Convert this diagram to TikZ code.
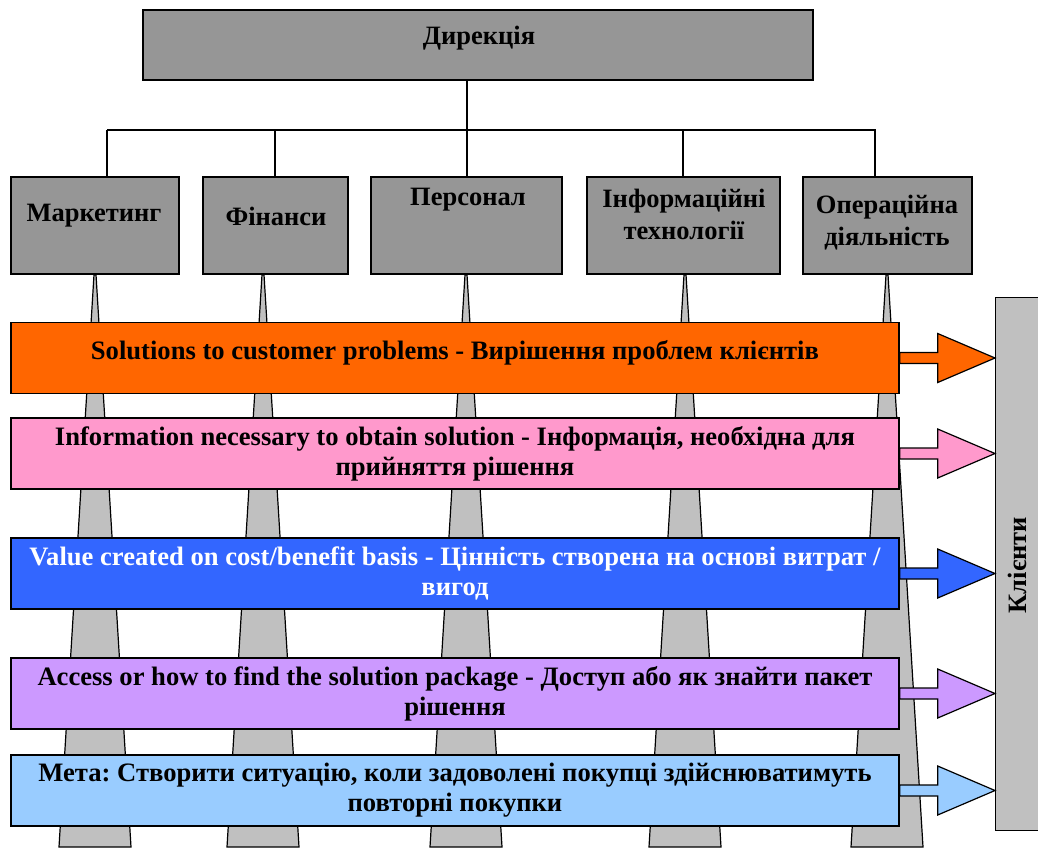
\documentclass[tikz,border=0pt]{standalone}
\usepackage{fontspec}
\setmainfont{Liberation Serif}
\usetikzlibrary{calc}
\frenchspacing

\definecolor{deptgray}{HTML}{969696}
\definecolor{raygray}{HTML}{C0C0C0}
\definecolor{solorange}{HTML}{FF6600}
\definecolor{infopink}{HTML}{FF99CC}
\definecolor{valueblue}{HTML}{3366FF}
\definecolor{accesslilac}{HTML}{CC99FF}
\definecolor{goalblue}{HTML}{99CCFF}

\begin{document}
\begin{tikzpicture}[x=1pt, y=1pt,
  box/.style={draw, line width=1.4pt, inner sep=0pt},
  dept/.style={box, fill=deptgray, minimum height=97pt},
  deptlab/.style={font=\bfseries\fontsize{26.5}{32}\selectfont, align=center, inner sep=0pt},
  band/.style={box, minimum width=888pt, minimum height=71pt,
    font=\bfseries\fontsize{26.6}{30}\selectfont, align=center},
  ray/.style={draw, line width=1.2pt, fill=raygray},
  tree/.style={line width=1.2pt},
  tip/.style={draw, line width=1.2pt},
]
\useasboundingbox (0,0) rectangle (1038,-847);
\clip (0,0) rectangle (1038,-847);

% --- Top: direction and departments ---
\node[box, fill=deptgray, minimum width=670pt, minimum height=70pt] (dir) at (478,-45) {};
\node[deptlab] (dirt) at (479,-38) {Дирекція};

\node[dept, minimum width=168pt] (mark) at (95,-225.5)  {};
\node[dept, minimum width=145pt] (fin)  at (275.5,-225.5) {};
\node[dept, minimum width=191pt] (pers) at (466.5,-225.5) {};
\node[dept, minimum width=193pt] (it)   at (683.5,-225.5) {};
\node[dept, minimum width=169pt] (op)   at (887.5,-225.5) {};

\node[deptlab] (markt) at (94,-216)  {Маркетинг};
\node[deptlab] (fint)  at (276,-216) {Фінанси};
\node[deptlab] (perst) at (468,-200) {Персонал};
\node[deptlab] (itt)   at (684,-214) {Інформаційні\\технології};
\node[deptlab] (opt)   at (887,-223) {Операційна\\діяльність};

% --- Tree connectors ---
\coordinate (hub) at (467,-130);
\draw[tree] (dir.south -| hub) -- (hub);
\draw[tree] (107,-130) -- (876,-130);
\foreach \tx/\d in {107/mark, 275/fin, 467/pers, 683/it, 875/op}
  \draw[tree] (\tx,-130) -- (\d.north -| \tx,0);

% --- Rays below the departments ---
\foreach \cx/\d in {95/mark, 263/fin, 466/pers, 685/it, 887/op}
  \filldraw[ray] ($(\d.south -| \cx,0)+(-1,0)$) -- ++(2,0)
    -- (\cx+36,-847) -- (\cx-36,-847) -- cycle;

% --- Bands ---
\node[band, fill=solorange, text depth=17pt] (sol) at (455,-358)
  {Solutions to customer problems - Вирішення проблем клієнтів};
\node[band, fill=infopink] (info) at (455,-453.5)
  {Information necessary to obtain solution - Інформація, необхідна для\\прийняття рішення};
\node[band, fill=valueblue, text=white] (value) at (455,-573.5)
  {Value created on cost/benefit basis - Цінність створена на основі витрат /\\вигод};
\node[band, fill=accesslilac] (access) at (455,-693.5)
  {Access or how to find the solution package - Доступ або як знайти пакет\\рішення};
\node[band, fill=goalblue] (goal) at (455,-790.5)
  {Мета: Створити ситуацію, коли задоволені покупці здійснюватимуть\\повторні покупки};

% --- Clients ---
\node[box, fill=raygray, minimum width=60pt, minimum height=533pt, anchor=north west] (cli) at (995,-297) {};
\node[deptlab, rotate=90] (clit) at (1017,-565) {Клієнти};

% --- Arrows to clients ---
\foreach \b/\c in {sol/solorange, info/infopink, value/valueblue, access/accesslilac, goal/goalblue}
  \filldraw[tip, fill=\c] ($(\b.east)+(0,5.5)$) -- ++(38,0) -- ++(0,19)
    -- (\b.east -| cli.west) -- ($(\b.east)+(38,-24.5)$) -- ++(0,19)
    -- ($(\b.east)+(0,-5.5)$) -- cycle;
\end{tikzpicture}
\end{document}
